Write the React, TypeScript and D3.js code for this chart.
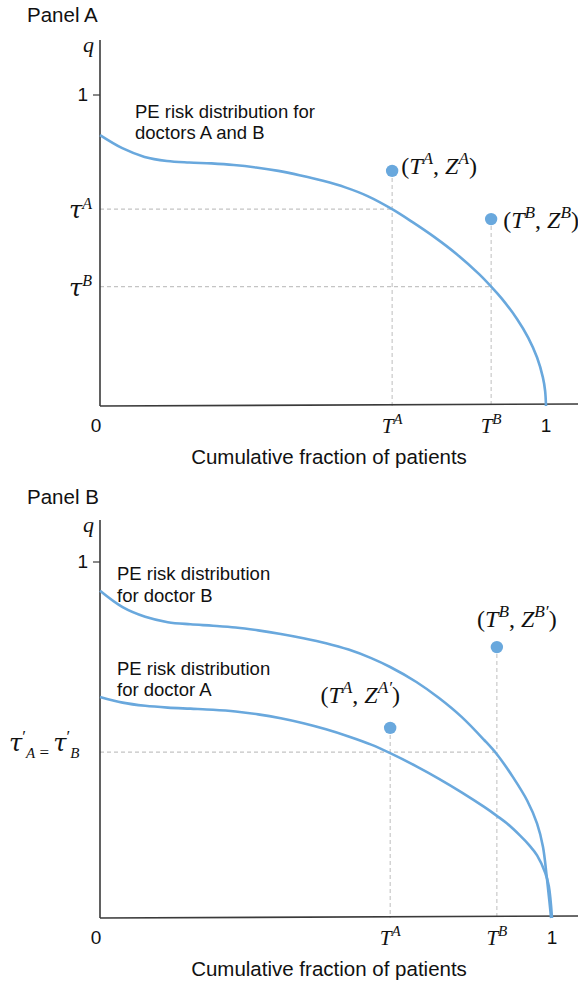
import React from "react";
import * as d3 from "d3";

const W = 578;
const H = 982;

// ---------- Panel A data: PE risk distribution for doctors A and B ----------
const distAB_x = [0, 0.05, 0.1, 0.15, 0.2, 0.25, 0.3, 0.35, 0.4, 0.45, 0.5, 0.55, 0.6, 0.655, 0.7, 0.75, 0.8, 0.85, 0.877, 0.9, 0.935, 0.96, 0.98, 0.993, 0.998, 1.0];
const distAB_q = [0.871, 0.829, 0.801, 0.788, 0.783, 0.78, 0.775, 0.767, 0.756, 0.741, 0.724, 0.703, 0.675, 0.633, 0.592, 0.543, 0.488, 0.424, 0.384, 0.347, 0.28, 0.22, 0.156, 0.092, 0.049, 0];
const panelA_T = [0.655, 0.877]; // T^A, T^B
const panelA_Z = [0.756, 0.601]; // Z^A, Z^B
const panelA_tau = [0.633, 0.384]; // tau^A, tau^B
const doctorLabels = ["A", "B"];

// ---------- Panel B data ----------
const docB_x = [0, 0.05, 0.1, 0.15, 0.2, 0.25, 0.3, 0.35, 0.4, 0.45, 0.5, 0.55, 0.6, 0.642, 0.7, 0.75, 0.8, 0.85, 0.878, 0.914, 0.945, 0.967, 0.98, 0.988, 0.994, 0.998];
const docB_q = [0.919, 0.873, 0.846, 0.831, 0.825, 0.821, 0.816, 0.808, 0.798, 0.786, 0.772, 0.754, 0.73, 0.705, 0.663, 0.618, 0.565, 0.5, 0.46, 0.395, 0.33, 0.265, 0.2, 0.12, 0.05, 0];
const docA_x = [0, 0.05, 0.1, 0.15, 0.2, 0.25, 0.3, 0.35, 0.4, 0.45, 0.5, 0.55, 0.6, 0.642, 0.7, 0.75, 0.8, 0.85, 0.878, 0.9, 0.929, 0.95, 0.967, 0.985, 0.993, 1.0];
const docA_q = [0.621, 0.605, 0.596, 0.591, 0.588, 0.585, 0.58, 0.572, 0.561, 0.547, 0.53, 0.51, 0.487, 0.463, 0.426, 0.391, 0.353, 0.312, 0.287, 0.266, 0.232, 0.204, 0.176, 0.127, 0.089, 0];
const panelB_T = [0.642, 0.878];
const panelB_Z = [0.534, 0.761];
const panelB_tau = 0.466;

const xTickVals = [0, 1];
const xAxisTitle = "Cumulative fraction of patients";

const BLUE = "#69a8dd";
const DASH = "#c4c4c4";
const AXIS = "#3a3a3a";
const SANS = "'Liberation Sans', Arial, Helvetica, sans-serif";
const SERIF = "'Liberation Serif', 'Times New Roman', serif";
const TAU_FONT = "'DejaVu Serif', 'Liberation Serif', serif";

type Part = { t: string; k?: "sup" | "sub"; it?: boolean; dx?: number; sz?: number; ff?: string };

function Mth({ x, y, anchor = "start", size = 20, parts }: { x: number; y: number; anchor?: string; size?: number; parts: Part[] }) {
  let shift = 0;
  const spans = parts.map((p, i) => {
    const target = p.k === "sup" ? -0.42 * size : p.k === "sub" ? 0.3 * size : 0;
    const dy = target - shift;
    shift = target;
    return (
      <tspan
        key={i}
        dy={dy}
        dx={p.dx ?? 0}
        fontSize={p.sz ?? (p.k ? size * 0.72 : size)}
        fontStyle={p.it === false ? "normal" : "italic"}
        fontFamily={p.ff}
      >
        {p.t}
      </tspan>
    );
  });
  return (
    <text x={x} y={y} textAnchor={anchor as any} fontFamily={SERIF} fontSize={size} fill="#111">
      {spans}
    </text>
  );
}

const supPart = (base: string, sup: string): Part[] => [{ t: base }, { t: sup, k: "sup" }];

function App() {
  // Panel A scales
  const xA = d3.scaleLinear().domain([0, 1]).range([100, 546]);
  const yA = d3.scaleLinear().domain([0, 1]).range([406, 95]);
  // Panel B scales
  const xB = d3.scaleLinear().domain([0, 1]).range([100, 552]);
  const yB = d3.scaleLinear().domain([0, 1]).range([918, 562]);

  const mkLine = (xs: number[], x: d3.ScaleLinear<number, number>, y: d3.ScaleLinear<number, number>) =>
    d3
      .line<number>()
      .x((_, i) => x(xs[i]))
      .y((d) => y(d))
      .curve(d3.curveCatmullRom.alpha(0.5));

  const renderAxes = (
    x: d3.ScaleLinear<number, number>,
    y: d3.ScaleLinear<number, number>,
    qTop: number,
    xEnd: number,
    tilt: number
  ) => (
    <g>
      <line x1={x(0)} y1={y(qTop)} x2={x(0)} y2={y(0)} stroke={AXIS} strokeWidth={1.6} />
      <line x1={x(0)} y1={y(0)} x2={x(xEnd)} y2={y(0) - tilt} stroke={AXIS} strokeWidth={1.6} />
      <line x1={x(0) - 7} y1={y(1)} x2={x(0)} y2={y(1)} stroke={AXIS} strokeWidth={1.2} />
      <text x={x(0) - 12} y={y(1) + 6} textAnchor="end" fontFamily={SANS} fontSize={19} fill="#111">
        1
      </text>
      <text x={x(0) - 6} y={y(qTop) + 12} textAnchor="end" fontFamily={SERIF} fontStyle="italic" fontSize={22} fill="#111">
        q
      </text>
      {xTickVals.map((v) => (
        <text key={v} x={x(v) - (v === 0 ? 4 : 0)} y={y(0) + 26} textAnchor="middle" fontFamily={SANS} fontSize={19} fill="#111">
          {v}
        </text>
      ))}
      <text x={329} y={y(0) + 58} textAnchor="middle" fontFamily={SANS} fontSize={20.5} fill="#111">
        {xAxisTitle}
      </text>
    </g>
  );

  return (
    <svg width={W} height={H} style={{ position: "absolute", left: 0, top: 0, background: "#fff" }}>
      {/* ---------------- Panel A ---------------- */}
      <text x={27} y={22} fontFamily={SANS} fontSize={20.5} fill="#111">
        Panel A
      </text>
      {panelA_T.map((t, i) => (
        <g key={"ga" + i}>
          <line x1={xA(0)} y1={yA(panelA_tau[i])} x2={xA(t)} y2={yA(panelA_tau[i])} stroke={DASH} strokeWidth={1.1} strokeDasharray="4 3" />
          <line x1={xA(t)} y1={yA(panelA_Z[i])} x2={xA(t)} y2={yA(0)} stroke={DASH} strokeWidth={1.1} strokeDasharray="4 3" />
        </g>
      ))}
      {renderAxes(xA, yA, 1.177, 1.072, 2)}
      <path d={mkLine(distAB_x, xA, yA)(distAB_q) || ""} fill="none" stroke={BLUE} strokeWidth={2.6} />
      {panelA_T.map((t, i) => (
        <circle key={"da" + i} cx={xA(t)} cy={yA(panelA_Z[i])} r={6.2} fill={BLUE} />
      ))}
      <text fontFamily={SANS} fontSize={18.5} fill="#111">
        <tspan x={135} y={118}>PE risk distribution for</tspan>
        <tspan x={135} y={139}>doctors A and B</tspan>
      </text>
      {panelA_tau.map((tv, i) => (
        <Mth
          key={"ta" + i}
          x={xA(0) - 8}
          y={yA(tv) + 9}
          anchor="end"
          size={22}
          parts={[{ t: "τ", sz: 24, ff: TAU_FONT }, { t: doctorLabels[i], k: "sup", sz: 16 }, { t: "" }]}
        />
      ))}
      {panelA_T.map((t, i) => (
        <Mth key={"tx" + i} x={xA(t)} y={yA(0) + 27} anchor="middle" size={21} parts={[...supPart("T", doctorLabels[i]), { t: "" }]} />
      ))}
      {panelA_T.map((t, i) => (
        <Mth
          key={"pl" + i}
          x={xA(t) + (i === 0 ? 9 : 12)}
          y={yA(panelA_Z[i]) + (i === 0 ? 3 : 9)}
          size={24}
          parts={[
            { t: "(", it: false },
            ...supPart("T", doctorLabels[i]),
            { t: ", ", it: false },
            ...supPart("Z", doctorLabels[i]),
            { t: ")", it: false },
          ]}
        />
      ))}

      {/* ---------------- Panel B ---------------- */}
      <text x={27} y={504} fontFamily={SANS} fontSize={20.5} fill="#111">
        Panel B
      </text>
      <line x1={xB(0)} y1={yB(panelB_tau)} x2={xB(panelB_T[1])} y2={yB(panelB_tau)} stroke={DASH} strokeWidth={1.1} strokeDasharray="4 3" />
      {panelB_T.map((t, i) => (
        <line key={"vb" + i} x1={xB(t)} y1={yB(panelB_Z[i])} x2={xB(t)} y2={yB(0)} stroke={DASH} strokeWidth={1.1} strokeDasharray="4 3" />
      ))}
      {renderAxes(xB, yB, 1.118, 1.058, 2)}
      <path d={mkLine(docB_x, xB, yB)(docB_q) || ""} fill="none" stroke={BLUE} strokeWidth={2.6} />
      <path d={mkLine(docA_x, xB, yB)(docA_q) || ""} fill="none" stroke={BLUE} strokeWidth={2.6} />
      {panelB_T.map((t, i) => (
        <circle key={"db" + i} cx={xB(t)} cy={yB(panelB_Z[i])} r={6.2} fill={BLUE} />
      ))}
      <text fontFamily={SANS} fontSize={18.5} fill="#111">
        <tspan x={117} y={580}>PE risk distribution</tspan>
        <tspan x={117} y={602}>for doctor B</tspan>
        <tspan x={117} y={675}>PE risk distribution</tspan>
        <tspan x={117} y={696}>for doctor A</tspan>
      </text>
      <Mth
        x={9}
        y={yB(panelB_tau) - 1}
        size={22}
        parts={[
          { t: "τ", sz: 24, ff: TAU_FONT },
          { t: "′", k: "sup", it: false, sz: 17 },
          { t: "A", k: "sub", sz: 15 },
          { t: "\u00a0=\u00a0", k: "sub", it: false, sz: 17 },
          { t: "τ", sz: 24, ff: TAU_FONT },
          { t: "′", k: "sup", it: false, sz: 17 },
          { t: "B", k: "sub", sz: 15 },
        ]}
      />
      {panelB_T.map((t, i) => (
        <Mth key={"txb" + i} x={xB(t)} y={yB(0) + 27} anchor="middle" size={21} parts={[...supPart("T", doctorLabels[i]), { t: "" }]} />
      ))}
      {panelB_T.map((t, i) => (
        <Mth
          key={"plb" + i}
          x={xB(t) - (i === 0 ? 30 : -20)}
          y={yB(panelB_Z[i]) - (i === 0 ? 25 : 20)}
          anchor="middle"
          size={24}
          parts={[
            { t: "(", it: false },
            ...supPart("T", doctorLabels[i]),
            { t: ", ", it: false },
            { t: "Z" },
            { t: doctorLabels[i] + "′", k: "sup" },
            { t: ")", it: false },
          ]}
        />
      ))}
    </svg>
  );
}

export default App;
